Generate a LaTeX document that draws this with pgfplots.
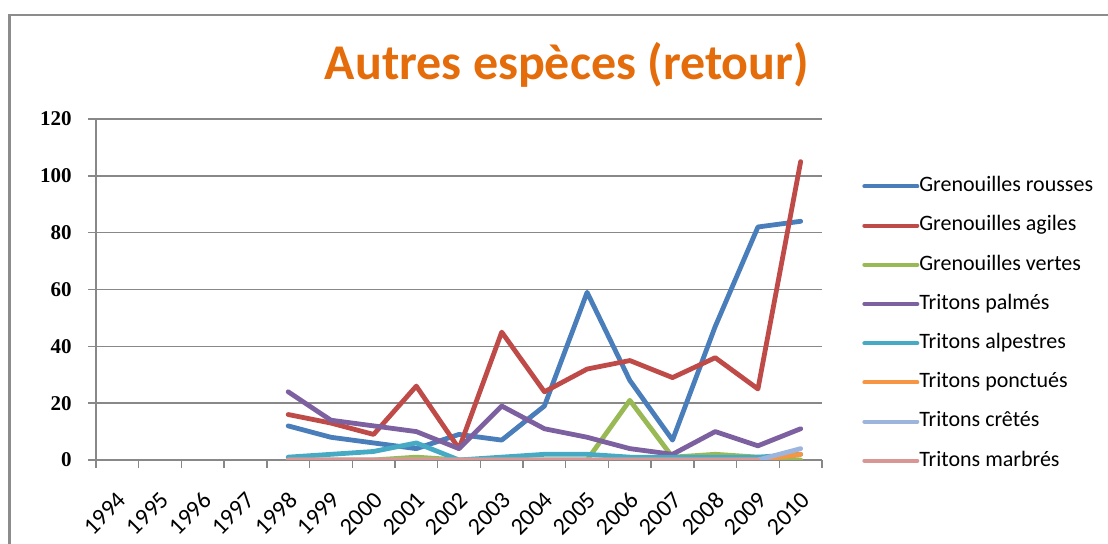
\documentclass[border=0pt]{standalone}
\usepackage{pgfplots}
\pgfplotsset{compat=1.18}
\usepackage{fontspec}
\setmainfont{Carlito}
\newfontfamily\numfont{Liberation Serif}

\definecolor{cRousse}{HTML}{4A7EBB}
\definecolor{cAgile}{HTML}{BE4B48}
\definecolor{cVerte}{HTML}{98B954}
\definecolor{cPalme}{HTML}{7D60A0}
\definecolor{cAlpe}{HTML}{46AAC5}
\definecolor{cPonct}{HTML}{F69544}
\definecolor{cCrete}{HTML}{9DB5DD}
\definecolor{cMarbre}{HTML}{D99694}
\definecolor{gridGray}{HTML}{888888}
\definecolor{frameGray}{HTML}{8C8C8C}
\definecolor{titleOrange}{HTML}{E46C0A}

\begin{document}
\begin{tikzpicture}
\useasboundingbox (0,0) rectangle (554pt,-272pt);
\draw[frameGray, line width=1.3pt] (4.7pt,-300pt) -- (4.7pt,-7.6pt) -- (580pt,-7.6pt);
\node[anchor=base, font=\fontsize{25}{30}\selectfont\bfseries, text=titleOrange]
  at (283.5pt,-40pt) {Autres espèces (retour)};

\begin{axis}[
    at={(48pt,-230pt)}, anchor=south west,
    scale only axis, width=363pt, height=170.5pt,
    xmin=-0.5, xmax=16.5, ymin=0, ymax=120,
    axis x line*=bottom, axis y line*=left,
    axis line style={gridGray, line width=0.8pt, -},
    ymajorgrids, grid style={gridGray, line width=0.7pt},
    tick align=outside, major tick length=4pt,
    tick style={gridGray, line width=0.7pt},
    ytick={0,20,...,120},
    /pgf/number format/assume math mode=true,
    yticklabel style={font=\numfont\bfseries\fontsize{10.5}{12}\selectfont, inner sep=0pt, anchor=east, xshift=-8pt},
    xtick={-0.5,0.5,...,16.5}, xticklabels={},
    extra x ticks={0,...,16},
    extra x tick labels={1994,1995,1996,1997,1998,1999,2000,2001,2002,2003,2004,2005,2006,2007,2008,2009,2010},
    extra x tick style={major tick length=0pt, xticklabel style={font=\fontsize{12}{14}\selectfont, inner sep=0pt, anchor=east, xshift=2.5pt, yshift=-18pt, rotate=45}},
    legend style={at={(1.055,0.832)}, anchor=north west, draw=none, fill=none,
        font=\fontsize{11}{13}\selectfont, inner sep=0pt, row sep=9.9pt,
        nodes={inner sep=0pt, text height=7.5pt, text depth=2.2pt},
        /tikz/every even column/.append style={column sep=3pt}},
    legend cell align=left,
    legend image code/.code={\draw[#1, line width=2pt] (0pt,0pt) -- (26.5pt,0pt);},
    every axis plot/.append style={line width=2.4pt, line join=round, line cap=round},
]
\addplot[cRousse] coordinates {(4,12)(5,8)(6,6)(7,4)(8,9)(9,7)(10,19)(11,59)(12,28)(13,7)(14,47)(15,82)(16,84)};
\addlegendentry{Grenouilles rousses}
\addplot[cAgile] coordinates {(4,16)(5,13)(6,9)(7,26)(8,4)(9,45)(10,24)(11,32)(12,35)(13,29)(14,36)(15,25)(16,105)};
\addlegendentry{Grenouilles agiles}
\addplot[cVerte] coordinates {(4,0)(5,0)(6,0)(7,1)(8,0)(9,0)(10,0)(11,0)(12,21)(13,1)(14,2)(15,1)(16,0)};
\addlegendentry{Grenouilles vertes}
\addplot[cPalme] coordinates {(4,24)(5,14)(6,12)(7,10)(8,4)(9,19)(10,11)(11,8)(12,4)(13,2)(14,10)(15,5)(16,11)};
\addlegendentry{Tritons palmés}
\addplot[cAlpe] coordinates {(4,1)(5,2)(6,3)(7,6)(8,0)(9,1)(10,2)(11,2)(12,1)(13,1)(14,1)(15,1)(16,2)};
\addlegendentry{Tritons alpestres}
\addplot[cPonct] coordinates {(4,0)(5,0)(6,0)(7,0)(8,0)(9,0)(10,0)(11,0)(12,0)(13,0)(14,0)(15,0)(16,2)};
\addlegendentry{Tritons ponctués}
\addplot[cCrete] coordinates {(4,0)(5,0)(6,0)(7,0)(8,0)(9,0)(10,0)(11,0)(12,0)(13,0)(14,0)(15,0)(16,4)};
\addlegendentry{Tritons crêtés}
\addplot[cMarbre] coordinates {(4,0)(5,0)(6,0)(7,0)(8,0)(9,0)(10,0)(11,0)(12,0)(13,0)(14,0)(15,0)};
\addlegendentry{Tritons marbrés}
\end{axis}
\end{tikzpicture}
\end{document}
